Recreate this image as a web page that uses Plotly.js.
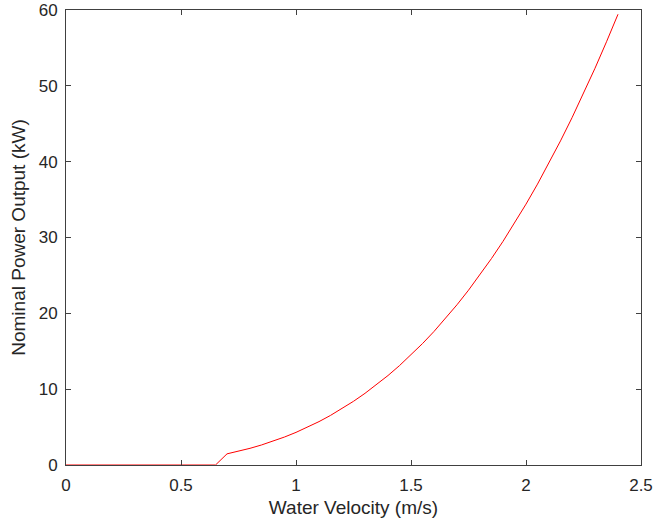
<!DOCTYPE html>
<html><head><meta charset="utf-8">
<script src="https://cdn.plot.ly/plotly-3.0.1.min.js"></script>
<style>html,body{margin:0;padding:0;background:#fff}</style>
</head><body><div id="chart" style="width:655px;height:525px"></div>
<script>
const velocity = [0, 0.1, 0.2, 0.3, 0.4, 0.5, 0.6, 0.65, 0.7, 0.75, 0.8, 0.85, 0.9, 0.95, 1.0, 1.05, 1.1, 1.15, 1.2, 1.25, 1.3, 1.35, 1.4, 1.45, 1.5, 1.55, 1.6, 1.65, 1.7, 1.75, 1.8, 1.85, 1.9, 1.95, 2.0, 2.05, 2.1, 2.15, 2.2, 2.25, 2.3, 2.35, 2.4];
const power = [0, 0, 0, 0, 0, 0, 0, 0, 1.47, 1.81, 2.20, 2.64, 3.13, 3.69, 4.30, 4.98, 5.72, 6.54, 7.43, 8.40, 9.45, 10.58, 11.80, 13.11, 14.51, 16.01, 17.61, 19.32, 21.13, 23.05, 25.08, 27.23, 29.49, 31.88, 34.40, 37.04, 39.82, 42.74, 45.79, 48.98, 52.32, 55.81, 59.44];
const xTicks = [0, 0.5, 1, 1.5, 2, 2.5];
const xTickLabels = ['0', '0.5', '1', '1.5', '2', '2.5'];
const yTicks = [0, 10, 20, 30, 40, 50, 60];
const yTickLabels = ['0', '10', '20', '30', '40', '50', '60'];

const axisColor = '#404040';
const trace = {
  x: velocity, y: power, type: 'scatter', mode: 'lines',
  line: {color: '#ff0000', width: 1}, hoverinfo: 'none'
};
const layout = {
  width: 655, height: 525,
  margin: {l: 66, r: 14, t: 10, b: 60},
  paper_bgcolor: '#fff', plot_bgcolor: '#fff',
  font: {family: 'Arial, Liberation Sans, sans-serif', size: 17, color: '#262626'},
  showlegend: false,
  xaxis: {
    range: [0, 2.5], tickvals: xTicks, ticktext: xTickLabels,
    ticks: 'inside', ticklen: 5, tickcolor: axisColor, tickwidth: 1,
    showline: true, linecolor: axisColor, linewidth: 1, mirror: 'ticks',
    showgrid: false, zeroline: false, ticklabelstandoff: 5,
    tickfont: {size: 17, color: '#262626'},
    title: {text: 'Water Velocity (m/s)', font: {size: 19, color: '#262626'}, standoff: 6}
  },
  yaxis: {
    range: [0, 60], tickvals: yTicks, ticktext: yTickLabels,
    ticks: 'inside', ticklen: 5, tickcolor: axisColor, tickwidth: 1,
    showline: true, linecolor: axisColor, linewidth: 1, mirror: 'ticks',
    showgrid: false, zeroline: false, ticklabelstandoff: 4,
    tickfont: {size: 17, color: '#262626'},
    title: {text: 'Nominal Power Output (kW)', font: {size: 19, color: '#262626'}, standoff: 8}
  }
};
Plotly.newPlot('chart', [trace], layout, {staticPlot: true, displayModeBar: false});
</script></body></html>
